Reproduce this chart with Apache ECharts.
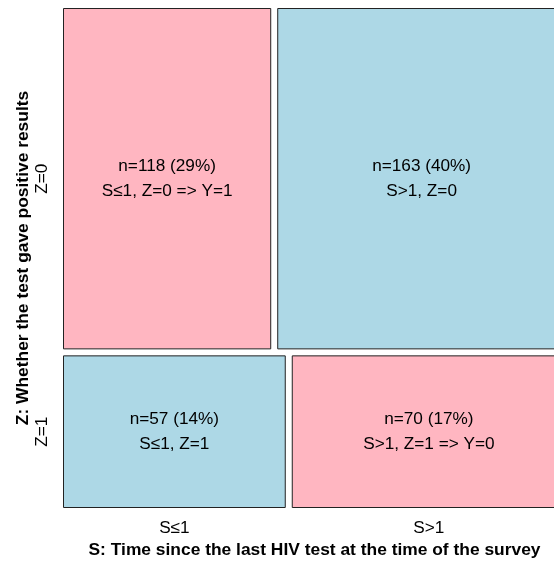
<!DOCTYPE html>
<html><head><meta charset="utf-8">
<script src="https://cdn.jsdelivr.net/npm/echarts@6/dist/echarts.min.js"></script>
<style>html,body{margin:0;padding:0;background:#fff}#c{width:554px;height:563px}</style>
</head><body><div id="c"></div>
<script>
// Data
const sLevels = ['S\u22641', 'S>1'];
const zLevels = ['Z=0', 'Z=1'];
const countsZ0 = [118, 163];
const countsZ1 = [57, 70];
const descZ0 = ['S\u22641, Z=0 => Y=1', 'S>1, Z=0'];
const descZ1 = ['S\u22641, Z=1', 'S>1, Z=1 => Y=0'];
const fillZ0 = ['#FFB6C1', '#ADD8E6'];
const fillZ1 = ['#ADD8E6', '#FFB6C1'];

const rows = [countsZ0, countsZ1];
const descs = [descZ0, descZ1];
const fills = [fillZ0, fillZ1];
const total = rows.flat().reduce((a, b) => a + b, 0);
const GAP = 6;
const FONT = 'Liberation Sans, Arial, sans-serif';
const FS = 17.2;

const cells = [];
let yAcc = 0;
rows.forEach((r, ri) => {
  const rowTot = r.reduce((a, b) => a + b, 0);
  const y0 = yAcc / total, y1 = (yAcc + rowTot) / total;
  let xAcc = 0;
  r.forEach((c, ci) => {
    const x0 = xAcc / rowTot, x1 = (xAcc + c) / rowTot;
    cells.push({ value: [x0, x1, y0, y1, ri, ci, c] });
    xAcc += c;
  });
  yAcc += rowTot;
});

const chart = echarts.init(document.getElementById('c'));
chart.setOption({
  animation: false,
  grid: { left: 63, top: 8, right: -12, bottom: 55, outerBoundsMode: 'none', containLabel: false },
  xAxis: {
    type: 'value', min: 0, max: 1,
    axisLine: { show: false }, axisTick: { show: false }, axisLabel: { show: false }, splitLine: { show: false },
    name: 'S: Time since the last HIV test at the time of the survey',
    nameLocation: 'middle', nameGap: 34,
    nameTextStyle: { fontFamily: FONT, fontWeight: 'bold', fontSize: 17.4, color: '#000' }
  },
  yAxis: {
    type: 'value', min: 0, max: 1, inverse: true,
    axisLine: { show: false }, axisTick: { show: false }, axisLabel: { show: false }, splitLine: { show: false },
    name: 'Z: Whether the test gave positive results',
    nameLocation: 'middle', nameGap: 31, nameRotate: 90,
    nameTextStyle: { fontFamily: FONT, fontWeight: 'bold', fontSize: 17.4, color: '#000' }
  },
  series: [{
    type: 'custom',
    data: cells,
    clip: false,
    renderItem: function (params, api) {
      const x0v = api.value(0), x1v = api.value(1), y0v = api.value(2), y1v = api.value(3);
      const ri = api.value(4), ci = api.value(5), n = api.value(6);
      const p0 = api.coord([x0v, y0v]);
      const p1 = api.coord([x1v, y1v]);
      const left = p0[0] + (x0v > 0 ? GAP / 2 : 0);
      const right = p1[0] - (x1v < 1 ? GAP / 2 : 0);
      const top = p0[1] + (y0v > 0 ? GAP / 2 : 0);
      const bottom = p1[1] - (y1v < 1 ? GAP / 2 : 0);
      const cx = (left + right) / 2, cy = (top + bottom) / 2;
      const pct = Math.round(n / total * 100);
      const children = [
        { type: 'rect', shape: { x: left + 0.5, y: top + 0.5, width: right - left - 1, height: bottom - top - 1 },
          style: { fill: fills[ri][ci], stroke: '#222', lineWidth: 1 } },
        { type: 'text', x: cx, y: cy,
          style: { text: 'n=' + n + ' (' + pct + '%)\n' + descs[ri][ci], fill: '#000', font: FS + 'px ' + FONT,
                   align: 'center', verticalAlign: 'middle', lineHeight: 25 } }
      ];
      if (ri === rows.length - 1) {
        children.push({ type: 'text', x: cx, y: p1[1] + 20,
          style: { text: sLevels[ci], fill: '#000', font: FS + 'px ' + FONT, align: 'center', verticalAlign: 'middle' } });
      }
      if (ci === 0) {
        children.push({ type: 'text', x: p0[0] - 21, y: (p0[1] + p1[1]) / 2 + (ri === 0 ? -GAP/4 : GAP/4), rotation: Math.PI / 2,
          style: { text: zLevels[ri], fill: '#000', font: FS + 'px ' + FONT, align: 'center', verticalAlign: 'middle' } });
      }
      return { type: 'group', children: children };
    }
  }]
});
</script></body></html>
